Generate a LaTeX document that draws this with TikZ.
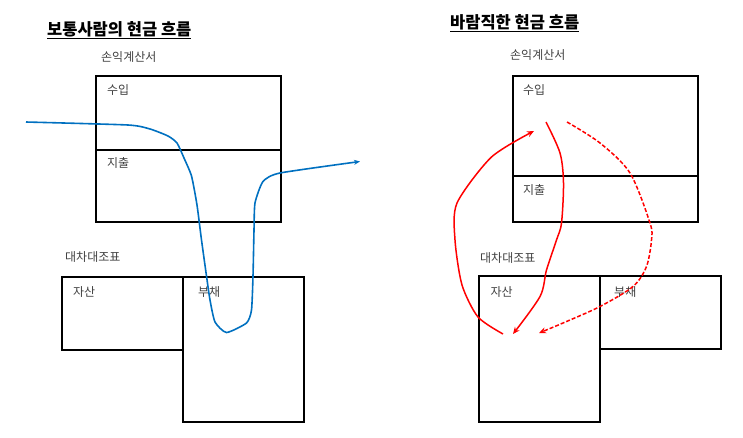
\documentclass[tikz,border=0pt]{standalone}
\usepackage{fontspec}
\setmainfont{Noto Sans CJK KR}
\usetikzlibrary{arrows.meta}
\definecolor{flowblue}{RGB}{0,112,192}
\definecolor{labelgray}{RGB}{64,64,64}
\tikzset{
  box/.style={draw=black, line width=2pt, inner sep=0pt, anchor=north west},
  lbl/.style={anchor=west, inner sep=0pt, text=labelgray, font=\fontsize{12}{14}\selectfont},
  ttl/.style={anchor=west, inner sep=0pt, font=\fontsize{16.5}{19}\selectfont\bfseries},
  blueflow/.style={flowblue, line width=1.6pt, -{Stealth[length=6pt,width=5pt]}},
  redflow/.style={red, line width=1.5pt, -{Stealth[length=7pt,width=6pt]}},
  reddash/.style={redflow, dash pattern=on 4pt off 2pt}
}
\begin{document}
\begin{tikzpicture}[x=1pt,y=-1pt]
\useasboundingbox (0,0) rectangle (743,437);
% ---------- left ----------
\node[ttl] (t1) at (47,30) {\underline{보통사람의 현금 흐름}};
\node[lbl] (pl1) at (101,57) {손익계산서};
\node[box, minimum width=185pt, minimum height=74pt] (in1) at (95,75) {};
\node[box, minimum width=185pt, minimum height=72pt] (ex1) at (95,149) {};
\node[lbl] at (107,90) {수입};
\node[lbl] at (107,163) {지출};
\node[lbl] (bs1) at (65,257) {대차대조표};
\node[box, minimum width=121pt, minimum height=73pt] (as1) at (61,276) {};
\node[box, minimum width=121pt, minimum height=145pt] (li1) at (182,276) {};
\node[lbl] at (73,292) {자산};
\node[lbl] at (198,292) {부채};
\coordinate (bs) at (26,122);
\coordinate (be) at (360,161.5);
\draw[blueflow] plot[smooth, tension=0.35] coordinates {
 (bs) (128,125) (150,129) (168,136) (177,143) (184,158) (191.5,176) (197,205) (201.5,240) (206.5,276) (210,300) (215,322) (226.5,332.5) (246.5,323) (251.5,310) (253,276) (254,230) (255,203) (263,181.5) (280,173) (be)};
% ---------- right ----------
\node[ttl] (t2) at (450,23) {\underline{바람직한 현금 흐름}};
\node[lbl] (pl2) at (510,55) {손익계산서};
\node[box, minimum width=185pt, minimum height=99.5pt] (in2) at (511.5,75) {};
\node[box, minimum width=185pt, minimum height=46.5pt] (ex2) at (511.5,174.5) {};
\node[lbl] at (523,90) {수입};
\node[lbl] at (523,190) {지출};
\node[lbl] (bs2) at (480,258) {대차대조표};
\node[box, minimum width=121pt, minimum height=146pt] (as2) at (477.5,275) {};
\node[box, minimum width=121pt, minimum height=73pt] (li2) at (598.5,275) {};
\node[lbl] at (490.5,292) {자산};
\node[lbl] at (614,292) {부채};
\coordinate (r1s) at (503,334);
\coordinate (r1e) at (534,131);
\coordinate (r2s) at (546,122);
\coordinate (r2e) at (513,334);
\coordinate (r3s) at (567,122);
\coordinate (r3e) at (539,333);
\draw[redflow] plot[smooth, tension=0.45] coordinates {
 (r1s) (478,317) (462,285) (455,240) (457,203) (491.5,157) (r1e)};
\draw[redflow] plot[smooth, tension=0.5] coordinates {
 (r2s) (560,153) (563.5,183) (561.5,223) (556.5,240) (546.5,270) (540,296.5) (r2e)};
\draw[reddash] plot[smooth, tension=0.5] coordinates {
 (r3s) (600,143) (630,173) (650,223) (651.5,240) (646.5,266.5) (633,286.5) (600,306.5) (563,323) (r3e)};
\end{tikzpicture}
\end{document}
